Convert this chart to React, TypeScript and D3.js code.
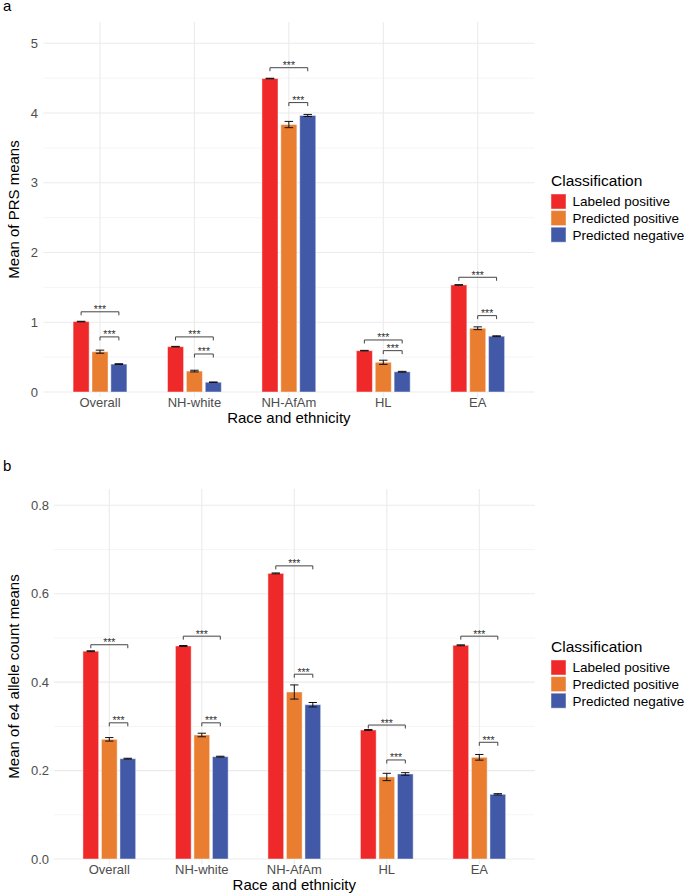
import * as d3 from 'd3';

const categories = ['Overall', 'NH-white', 'NH-AfAm', 'HL', 'EA'];
const classes = ['Labeled positive', 'Predicted positive', 'Predicted negative'];
const classColors = ['#EF2929', '#E97E30', '#4259A8'];

// Panel a: mean of PRS means
const prsLabeled = [1.01, 0.65, 4.495, 0.593, 1.535];
const prsPredPos = [0.578, 0.30, 3.835, 0.426, 0.914];
const prsPredNeg = [0.40, 0.14, 3.965, 0.29, 0.80];
const prsErrLabeled = [0.004, 0.004, 0.004, 0.004, 0.004];
const prsErrPredPos = [0.022, 0.012, 0.045, 0.03, 0.02];
const prsErrPredNeg = [0.006, 0.004, 0.015, 0.006, 0.006];
const prsBracketTop = [1.15, 0.79, 4.65, 0.746, 1.645];
const prsBracketLow = [0.79, 0.545, 4.15, 0.593, 1.095];
const prsTicks = [0, 1, 2, 3, 4, 5];
const prsMinor = [0.5, 1.5, 2.5, 3.5, 4.5];

// Panel b: mean of e4 allele count means
const e4Labeled = [0.470, 0.4818, 0.646, 0.2918, 0.4834];
const e4PredPos = [0.2707, 0.2805, 0.3777, 0.1855, 0.230];
const e4PredNeg = [0.2269, 0.2315, 0.349, 0.1923, 0.1463];
const e4ErrLabeled = [0.001, 0.001, 0.001, 0.001, 0.001];
const e4ErrPredPos = [0.004, 0.004, 0.016, 0.0083, 0.0064];
const e4ErrPredNeg = [0.001, 0.001, 0.005, 0.003, 0.0015];
const e4BracketTop = [0.4846, 0.504, 0.663, 0.303, 0.504];
const e4BracketLow = [0.308, 0.308, 0.418, 0.224, 0.264];
const e4Ticks = [0, 0.2, 0.4, 0.6, 0.8];
const e4Minor = [0.1, 0.3, 0.5, 0.7];

const FONT = '"Liberation Sans", Arial, sans-serif';

interface PanelProps {
  labelY: number;
  label: string;
  yTitle: string;
  series: number[][];
  errors: number[][];
  bracketTop: number[];
  bracketLow: number[];
  ticks: number[];
  minor: number[];
  tickFormat: (v: number) => string;
  yDomain: [number, number];
  yRange: [number, number];
  xRange: [number, number];
  panelTop: number;
  tickRight: number;
  legendTitleY: number;
}

function Panel(p: PanelProps) {
  const x = d3.scalePoint<string>().domain(categories).range(p.xRange);
  const step = x.step();
  const left = p.xRange[0] - 0.6 * step;
  const right = p.xRange[1] + 0.6 * step;
  const y = d3.scaleLinear().domain(p.yDomain).range(p.yRange);
  const bottom = y(0) + 5;
  const pitch = 0.2 * step;
  const barW = 0.17 * step;
  const capW = 0.09 * step;
  const barX = (ci: number, si: number) => x(categories[ci])! + (si - 1) * pitch;
  const tip = 3.5;

  const bracket = (x1: number, x2: number, yv: number, key: string) => {
    const yy = y(yv);
    return (
      <g key={key}>
        <path
          d={`M${x1},${yy + tip}V${yy}H${x2}V${yy + tip}`}
          fill="none"
          stroke="#444"
          strokeWidth={1}
        />
        <text
          x={(x1 + x2) / 2}
          y={yy + 1.5}
          textAnchor="middle"
          fontSize={10.5}
          fill="#333"
        >
          ***
        </text>
      </g>
    );
  };

  return (
    <g fontFamily={FONT}>
      <text x={3} y={p.labelY} fontSize={15} fill="#000">{p.label}</text>
      {/* grid */}
      {p.minor.map((t, i) => (
        <line key={'m' + i} x1={left} x2={right} y1={y(t)} y2={y(t)} stroke="#f2f2f2" strokeWidth={0.8} />
      ))}
      {p.ticks.map((t, i) => (
        <line key={'g' + i} x1={left} x2={right} y1={y(t)} y2={y(t)} stroke="#ebebeb" strokeWidth={1.1} />
      ))}
      {categories.map((c) => (
        <line key={'v' + c} x1={x(c)} x2={x(c)} y1={p.panelTop} y2={bottom} stroke="#ebebeb" strokeWidth={1.1} />
      ))}
      {/* bars */}
      {p.series.map((vals, si) =>
        vals.map((v, ci) => (
          <rect
            key={`b${si}-${ci}`}
            x={barX(ci, si) - barW / 2}
            y={y(v)}
            width={barW}
            height={y(0) - y(v)}
            fill={classColors[si]}
            stroke="rgba(255,255,255,0.45)"
            strokeWidth={1}
          />
        ))
      )}
      {/* error bars */}
      {p.series.map((vals, si) =>
        vals.map((v, ci) => {
          const cx = barX(ci, si);
          const e = p.errors[si][ci];
          const y1 = y(v + e);
          const y2 = y(v - e);
          return (
            <path
              key={`e${si}-${ci}`}
              d={`M${cx - capW / 2},${y1}H${cx + capW / 2}M${cx},${y1}V${y2}M${cx - capW / 2},${y2}H${cx + capW / 2}`}
              stroke="#111"
              strokeWidth={1}
              fill="none"
            />
          );
        })
      )}
      {/* significance brackets */}
      {categories.map((c, ci) => bracket(barX(ci, 0), barX(ci, 2), p.bracketTop[ci], 'bt' + ci))}
      {categories.map((c, ci) => bracket(barX(ci, 1), barX(ci, 2), p.bracketLow[ci], 'bl' + ci))}
      {/* y axis */}
      {p.ticks.map((t, i) => (
        <text
          key={'yt' + i}
          x={p.tickRight}
          y={y(t)}
          dy="0.36em"
          textAnchor="end"
          fontSize={13}
          fill="#4d4d4d"
        >
          {p.tickFormat(t)}
        </text>
      ))}
      <text
        transform={`translate(19,${(p.panelTop + bottom) / 2}) rotate(-90)`}
        textAnchor="middle"
        fontSize={15}
        fill="#000"
      >
        {p.yTitle}
      </text>
      {/* x axis */}
      {categories.map((c) => (
        <text key={'xt' + c} x={x(c)} y={y(0) + 15} textAnchor="middle" fontSize={13} fill="#4d4d4d">
          {c}
        </text>
      ))}
      <text x={(left + right) / 2} y={y(0) + 31} textAnchor="middle" fontSize={15} fill="#000">
        Race and ethnicity
      </text>
      {/* legend */}
      <text x={551} y={p.legendTitleY} fontSize={15.5} fill="#000">Classification</text>
      {classes.map((c, i) => (
        <g key={'lg' + i} transform={`translate(551,${p.legendTitleY + 8 + i * 16.6})`}>
          <rect width={15} height={15} fill={classColors[i]} stroke="rgba(255,255,255,0.45)" strokeWidth={1} />
          <text x={21.5} y={7.5} dy="0.36em" fontSize={13.5} fill="#000">{c}</text>
        </g>
      ))}
    </g>
  );
}

export default function App() {
  return (
    <div style={{ position: 'absolute', left: 0, top: 0 }}>
      <svg width={685} height={895} style={{ display: 'block', background: '#fff' }}>
        <Panel
          labelY={11}
          label="a"
          yTitle="Mean of PRS means"
          series={[prsLabeled, prsPredPos, prsPredNeg]}
          errors={[prsErrLabeled, prsErrPredPos, prsErrPredNeg]}
          bracketTop={prsBracketTop}
          bracketLow={prsBracketLow}
          ticks={prsTicks}
          minor={prsMinor}
          tickFormat={(v) => String(v)}
          yDomain={[0, 5]}
          yRange={[392, 43.3]}
          xRange={[100, 477.7]}
          panelTop={22}
          tickRight={38}
          legendTitleY={186}
        />
        <Panel
          labelY={471}
          label="b"
          yTitle="Mean of e4 allele count means"
          series={[e4Labeled, e4PredPos, e4PredNeg]}
          errors={[e4ErrLabeled, e4ErrPredPos, e4ErrPredNeg]}
          bracketTop={e4BracketTop}
          bracketLow={e4BracketLow}
          ticks={e4Ticks}
          minor={e4Minor}
          tickFormat={(v) => v.toFixed(1)}
          yDomain={[0, 0.8]}
          yRange={[859, 505.3]}
          xRange={[109.3, 479.3]}
          panelTop={489}
          tickRight={49}
          legendTitleY={652}
        />
      </svg>
    </div>
  );
}
